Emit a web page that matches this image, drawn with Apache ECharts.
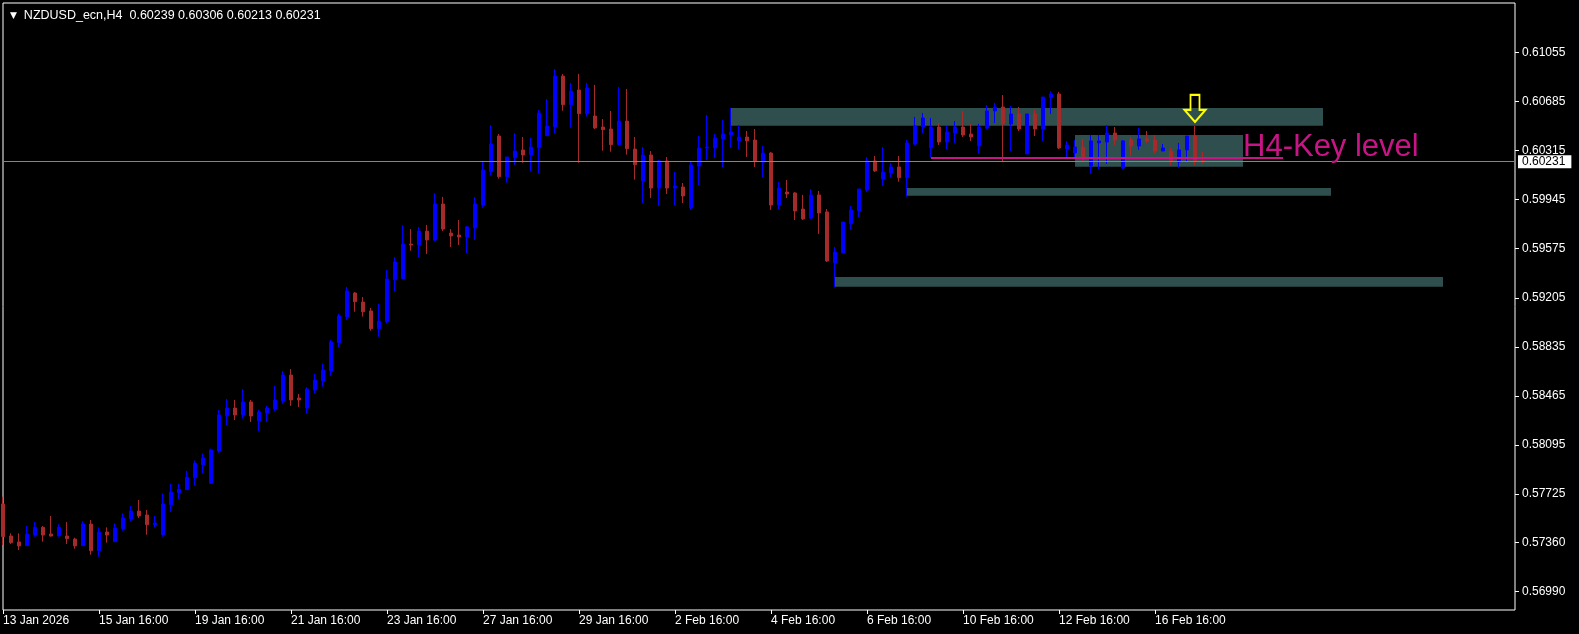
<!DOCTYPE html>
<html><head><meta charset="utf-8">
<script src="https://cdn.jsdelivr.net/npm/echarts@6/dist/echarts.min.js"></script>
<style>html,body{margin:0;padding:0;background:#000}#c{width:1579px;height:634px}</style>
</head><body><div id="c"></div>
<script>
// H4 bars, NZDUSD_ecn, first bar 13 Jan 2026 16:00
const open = [0.57651,0.57410,0.57365,0.57337,0.57417,0.57475,0.57425,0.57412,0.57410,0.57387,
0.57337,0.57500,0.57299,0.57440,0.57367,0.57465,0.57538,0.57598,0.57568,0.57495,
0.57420,0.57646,0.57736,0.57759,0.57849,0.57947,0.57807,0.58050,0.58317,0.58374,
0.58322,0.58420,0.58276,0.58337,0.58367,0.58427,0.58623,0.58450,0.58374,0.58510,
0.58578,0.58653,0.58867,0.59063,0.59241,0.59173,0.59106,0.58972,0.59025,0.59342,
0.59349,0.59610,0.59603,0.59708,0.59641,0.59912,0.59693,0.59678,0.59663,0.59731,
0.59904,0.60156,0.60424,0.60118,0.60261,0.60319,0.60281,0.60336,0.60427,0.60492,
0.60876,0.60660,0.60771,0.60593,0.60575,0.60492,0.60477,0.60359,0.60537,0.60326,
0.60085,0.60281,0.60032,0.60236,0.60032,0.60040,0.59882,0.60198,0.60334,0.60334,
0.60402,0.60432,0.60387,0.60417,0.60394,0.60228,0.60296,0.59904,0.60002,0.59995,
0.59874,0.59806,0.59980,0.59852,0.59467,0.59543,0.59764,0.59859,0.60017,0.60236,
0.60100,0.60145,0.60191,0.60110,0.60364,0.60492,0.60334,0.60492,0.60379,0.60447,
0.60492,0.60439,0.60349,0.60485,0.60613,0.60643,0.60515,0.60590,0.60289,0.60590,
0.60477,0.60713,0.60741,0.60326,0.60296,0.60341,0.60198,0.60372,0.60379,0.60447,
0.60183,0.60394,0.60349,0.60402,0.60394,0.60311,0.60311,0.60228,0.60319,0.60424,
0.60239];
const high = [0.57706,0.57430,0.57430,0.57485,0.57515,0.57485,0.57561,0.57498,0.57515,0.57397,
0.57523,0.57530,0.57475,0.57475,0.57505,0.57581,0.57636,0.57681,0.57606,0.57561,
0.57731,0.57802,0.57802,0.57900,0.57978,0.58033,0.58068,0.58359,0.58442,0.58435,
0.58518,0.58435,0.58359,0.58390,0.58540,0.58653,0.58668,0.58480,0.58533,0.58631,
0.58709,0.58887,0.59083,0.59286,0.59249,0.59211,0.59128,0.59158,0.59414,0.59512,
0.59754,0.59723,0.59739,0.59754,0.59995,0.59965,0.59723,0.59791,0.59746,0.59965,
0.60228,0.60507,0.60439,0.60266,0.60447,0.60417,0.60409,0.60620,0.60703,0.60929,
0.60892,0.60824,0.60892,0.60824,0.60809,0.60552,0.60613,0.60794,0.60779,0.60417,
0.60341,0.60311,0.60243,0.60266,0.60153,0.60070,0.60228,0.60424,0.60583,0.60439,
0.60545,0.60635,0.60507,0.60462,0.60477,0.60349,0.60304,0.60078,0.60093,0.60002,
0.59980,0.60025,0.60010,0.59874,0.59588,0.59776,0.59897,0.60025,0.60266,0.60274,
0.60341,0.60221,0.60274,0.60394,0.60568,0.60598,0.60560,0.60522,0.60500,0.60537,
0.60613,0.60515,0.60515,0.60658,0.60673,0.60733,0.60650,0.60643,0.60590,0.60620,
0.60718,0.60763,0.60756,0.60387,0.60394,0.60402,0.60432,0.60432,0.60507,0.60492,
0.60394,0.60417,0.60485,0.60462,0.60432,0.60364,0.60334,0.60372,0.60424,0.60500,
0.60306];
const low = [0.57342,0.57350,0.57304,0.57337,0.57405,0.57367,0.57405,0.57405,0.57350,0.57314,
0.57337,0.57269,0.57254,0.57360,0.57367,0.57450,0.57520,0.57545,0.57420,0.57475,
0.57405,0.57591,0.57689,0.57759,0.57789,0.57882,0.57802,0.58038,0.58246,0.58284,
0.58294,0.58269,0.58201,0.58269,0.58352,0.58407,0.58390,0.58382,0.58329,0.58485,
0.58535,0.58616,0.58832,0.59040,0.59100,0.59063,0.58957,0.58912,0.59010,0.59251,
0.59349,0.59560,0.59512,0.59535,0.59633,0.59708,0.59588,0.59603,0.59543,0.59641,
0.59884,0.60125,0.60103,0.60073,0.60208,0.60223,0.60156,0.60140,0.60427,0.60442,
0.60615,0.60487,0.60223,0.60570,0.60477,0.60314,0.60306,0.60351,0.60284,0.60095,
0.59919,0.59957,0.59897,0.59987,0.59904,0.59919,0.59867,0.60055,0.60243,0.60258,
0.60191,0.60334,0.60326,0.60266,0.60191,0.60115,0.59867,0.59874,0.59957,0.59791,
0.59791,0.59799,0.59686,0.59475,0.59286,0.59543,0.59716,0.59814,0.60002,0.60153,
0.60047,0.60108,0.60080,0.59967,0.60357,0.60447,0.60259,0.60357,0.60326,0.60372,
0.60417,0.60387,0.60289,0.60477,0.60522,0.60228,0.60311,0.60462,0.60289,0.60424,
0.60387,0.60590,0.60326,0.60266,0.60259,0.60236,0.60138,0.60176,0.60213,0.60357,
0.60176,0.60274,0.60319,0.60372,0.60296,0.60311,0.60206,0.60183,0.60228,0.60206,
0.60213];
const close = [0.57405,0.57360,0.57335,0.57425,0.57475,0.57417,0.57410,0.57475,0.57390,0.57335,
0.57500,0.57299,0.57440,0.57417,0.57470,0.57546,0.57598,0.57561,0.57495,0.57508,
0.57651,0.57741,0.57762,0.57852,0.57957,0.57998,0.58058,0.58322,0.58374,0.58322,
0.58420,0.58314,0.58344,0.58374,0.58435,0.58623,0.58435,0.58435,0.58518,0.58585,
0.58661,0.58872,0.59068,0.59256,0.59176,0.59100,0.58972,0.59030,0.59347,0.59475,
0.59610,0.59603,0.59708,0.59641,0.59912,0.59723,0.59671,0.59663,0.59739,0.59912,
0.60168,0.60364,0.60118,0.60266,0.60311,0.60281,0.60341,0.60598,0.60500,0.60876,
0.60660,0.60763,0.60593,0.60786,0.60485,0.60472,0.60359,0.60537,0.60329,0.60208,
0.60281,0.60032,0.60236,0.60032,0.60047,0.59972,0.60206,0.60334,0.60341,0.60409,
0.60439,0.60454,0.60417,0.60387,0.60236,0.60296,0.59904,0.60032,0.59987,0.59859,
0.59799,0.59980,0.59844,0.59482,0.59550,0.59776,0.59867,0.60025,0.60236,0.60161,
0.60153,0.60191,0.60110,0.60372,0.60500,0.60560,0.60492,0.60379,0.60454,0.60492,
0.60432,0.60417,0.60492,0.60613,0.60643,0.60515,0.60590,0.60477,0.60590,0.60477,
0.60718,0.60741,0.60334,0.60357,0.60341,0.60251,0.60387,0.60387,0.60447,0.60394,
0.60387,0.60349,0.60402,0.60387,0.60311,0.60334,0.60236,0.60319,0.60424,0.60236,
0.60231];

const tickLabels = ['13 Jan 2026','15 Jan 16:00','19 Jan 16:00','21 Jan 16:00','23 Jan 16:00',
  '27 Jan 16:00','29 Jan 16:00','2 Feb 16:00','4 Feb 16:00','6 Feb 16:00','10 Feb 16:00',
  '12 Feb 16:00','16 Feb 16:00'];
const barsPerTick = 12;
const slotCount = 190;
const priceTicks = [0.56990,0.57360,0.57725,0.58095,0.58465,0.58835,0.59205,0.59575,0.59945,0.60315,0.60685,0.61055];

// zones (bar index start/end, price top/bottom)
const zoneStart = [91, 134, 113, 104];
const zoneEnd = [165, 155, 166, 180];
const zoneTop = [0.60635, 0.60432, 0.60032, 0.59362];
const zoneBottom = [0.60502, 0.60193, 0.59974, 0.59289];
// key level line
const keyLevel = 0.60257, keyFrom = 116, keyTo = 160;
const keyText = 'H4-Key level', keyTextBar = 155, keyTextPrice = 0.60340;
const arrowBar = 149, arrowPrice = 0.60632;
const symbolName = 'NZDUSD_ecn,H4';

const cats = Array.from({length: slotCount}, (_, i) => String(i));
const candleData = open.map((o, i) => [o, close[i], low[i], high[i]]);
const last = open.length - 1;
const isTick = (i) => i % barsPerTick === 0 && i / barsPerTick < tickLabels.length;
const FONT = 'Liberation Sans';

const chart = echarts.init(document.getElementById('c'), null, {renderer: 'canvas'});
chart.setOption({
  backgroundColor: '#000',
  animation: false,
  title: {
    left: 5, top: 4,
    text: '{t|▼}  ' + symbolName + '  ' + [open[last], high[last], low[last], close[last]].map(v => v.toFixed(5)).join(' '),
    textStyle: {color: '#fff', fontSize: 12.5, fontWeight: 'normal', fontFamily: FONT,
      rich: {t: {fontSize: 9, color: '#fff', fontFamily: 'DejaVu Sans'}}}
  },
  grid: {left: 3, right: 64, top: 3, bottom: 24, show: true, borderColor: '#fff', borderWidth: 1, backgroundColor: '#000'},
  xAxis: {
    type: 'category', data: cats, boundaryGap: false,
    axisLine: {show: false},
    axisTick: {show: true, interval: (i) => isTick(i), length: 4, lineStyle: {color: '#fff'}},
    axisLabel: {interval: (i) => isTick(i), formatter: (v) => tickLabels[Number(v) / barsPerTick],
      color: '#fff', fontSize: 12, fontFamily: FONT, align: 'left', margin: 5},
    splitLine: {show: false}
  },
  yAxis: {
    type: 'value', position: 'right', min: 0.568522, max: 0.614265, scale: true,
    axisLine: {show: false},
    splitLine: {show: false},
    axisTick: {show: true, customValues: priceTicks, length: 4, lineStyle: {color: '#fff'}},
    axisLabel: {customValues: priceTicks, formatter: (v) => v.toFixed(5), color: '#fff', fontSize: 12, fontFamily: FONT, margin: 7}
  },
  series: [
    {
      type: 'line', data: [], z: 1, silent: true,
      markArea: {silent: true, itemStyle: {color: '#2f4f4f'},
        data: zoneStart.map((s, k) => [{xAxis: s, yAxis: zoneTop[k]}, {xAxis: zoneEnd[k], yAxis: zoneBottom[k]}])}
    },
    {
      type: 'candlestick', z: 2, data: candleData, barWidth: 4, silent: true, clip: true,
      itemStyle: {color: '#0000ff', color0: '#a52a2a', borderColor: '#0000ff', borderColor0: '#a52a2a', borderWidth: 1}
    },
    {
      type: 'line', data: [], z: 3, silent: true,
      markLine: {
        silent: true, symbol: ['none', 'none'], animation: false, precision: 5,
        data: [
          {yAxis: close[last], lineStyle: {color: '#778899', width: 1, type: 'solid'},
            label: {show: true, position: 'end', distance: 3, formatter: close[last].toFixed(5),
              backgroundColor: '#fff', color: '#000', fontSize: 12, fontFamily: FONT, padding: [1, 6, 0, 4]}},
          [{coord: [keyFrom, keyLevel], lineStyle: {color: '#c71585', width: 2, type: 'solid'}, label: {show: false}},
           {coord: [keyTo, keyLevel]}]
        ]
      },
      markPoint: {
        silent: true, animation: false,
        data: [
          {coord: [arrowBar, arrowPrice], symbol: 'path://M6,0 L15,0 L15,15 L21,15 L10.5,27 L0,15 L6,15 Z',
            symbolSize: [21, 27], itemStyle: {color: 'rgba(0,0,0,0)', borderColor: '#ffff00', borderWidth: 2},
            label: {show: false}},
          {coord: [keyTextBar, keyTextPrice], symbol: 'rect', symbolSize: 0,
            label: {show: true, position: [0, 0], align: 'left', verticalAlign: 'middle', formatter: keyText,
              color: '#c71585', fontSize: 31, fontFamily: FONT}}
        ]
      }
    }
  ]
});
</script></body></html>
